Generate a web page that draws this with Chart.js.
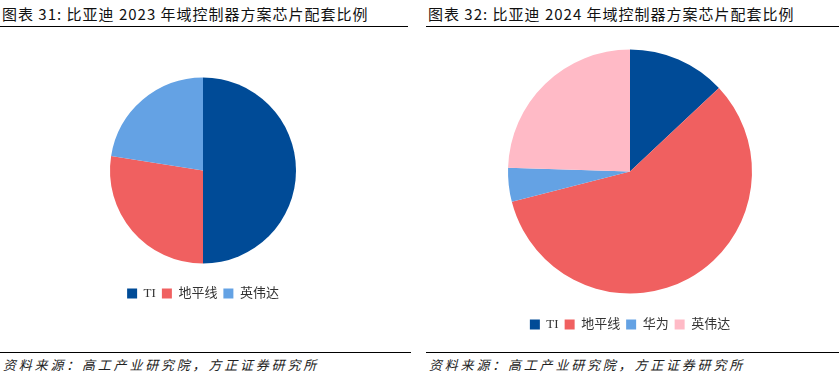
<!DOCTYPE html>
<html>
<head>
<meta charset="utf-8">
<script src="https://cdn.jsdelivr.net/npm/chart.js@4"></script>
<style>
  body { margin: 0; background: #fff; width: 839px; height: 378px; position: relative; overflow: hidden; }
  .title { position: absolute; top: 3px; font: 15px "Noto Sans CJK SC", sans-serif; letter-spacing: 1px; color: #111; white-space: nowrap; }
  .rule { position: absolute; height: 0; border-top: 1.5px solid #000; }
  .source { position: absolute; top: 355px; font: italic 13px "Noto Sans CJK SC", sans-serif; letter-spacing: 2.8px; color: #222; white-space: nowrap; }
  .box { position: absolute; }
</style>
</head>
<body>
<div class="title" style="left:2px">图表 31: 比亚迪 2023 年域控制器方案芯片配套比例</div>
<div class="title" style="left:428px">图表 32: 比亚迪 2024 年域控制器方案芯片配套比例</div>
<div class="rule" style="left:0;width:408px;top:26px"></div>
<div class="rule" style="left:426px;width:413px;top:26px"></div>

<div class="box" style="left:0;top:60px;width:412px;height:250px"><canvas id="pie2023"></canvas></div>
<div class="box" style="left:426px;top:31px;width:413px;height:310px"><canvas id="pie2024"></canvas></div>

<div class="rule" style="left:0;width:411px;top:352px"></div>
<div class="rule" style="left:426px;width:413px;top:352px"></div>
<div class="source" style="left:3px">资料来源：高工产业研究院，方正证券研究所</div>
<div class="source" style="left:429px">资料来源：高工产业研究院，方正证券研究所</div>

<script>
// 数据（占比 %，从图上估读）
const labels2023 = ["TI", "地平线", "英伟达"];
const values2023 = [50, 27.5, 22.5];
const colors2023 = ["#004B97", "#F06060", "#64A2E4"];

const labels2024 = ["TI", "地平线", "华为", "英伟达"];
const values2024 = [13, 58, 4.5, 24.5];
const colors2024 = ["#004B97", "#F06060", "#64A2E4", "#FFBAC6"];

function makePie(id, labels, values, colors, padding) {
  const ctx = document.getElementById(id).getContext("2d");
  return new Chart(ctx, {
    type: "pie",
    data: {
      labels: labels,
      datasets: [{ data: values, backgroundColor: colors, borderWidth: 0 }]
    },
    options: {
      responsive: true,
      maintainAspectRatio: false,
      animation: false,
      layout: { padding: padding },
      plugins: {
        tooltip: { enabled: false },
        legend: {
          position: "bottom",
          labels: {
            boxWidth: 10,
            boxHeight: 10,
            padding: 6,
            color: "#333",
            font: { size: 13, family: "'Liberation Serif', 'Noto Sans CJK SC', serif" }
          }
        }
      }
    }
  });
}

// 饼图大小由左右留白决定，图例留在下方
makePie("pie2023", labels2023, values2023, colors2023, { top: 0, bottom: 0, left: 110, right: 116 });
makePie("pie2024", labels2024, values2024, colors2024, { top: 0, bottom: 0, left: 82, right: 87 });
</script>
</body>
</html>
